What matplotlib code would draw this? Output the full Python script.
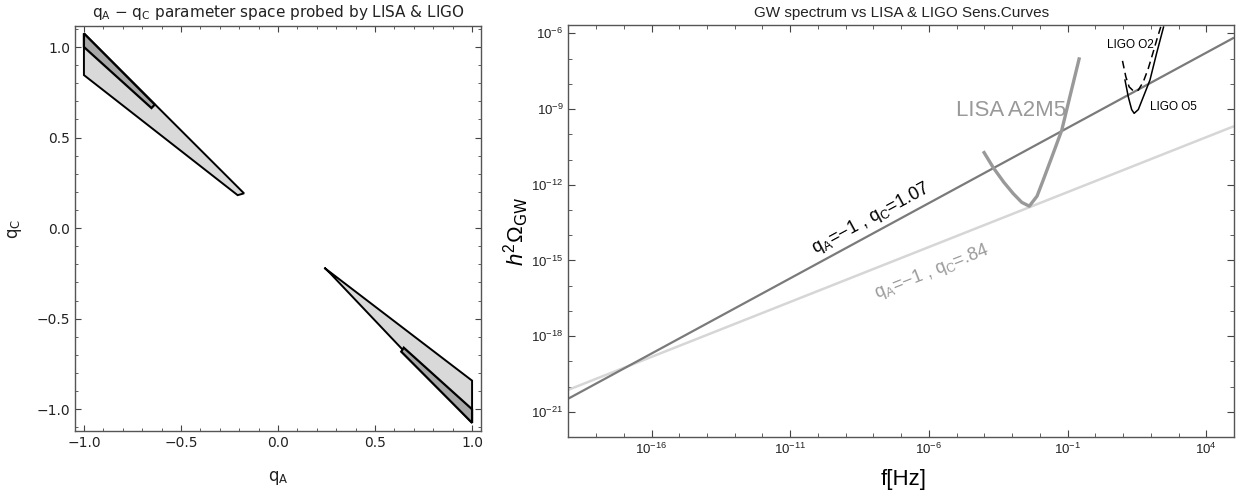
import matplotlib
matplotlib.use("Agg")

import matplotlib.pyplot as plt
from matplotlib import ticker
import numpy as np

# ── Left panel: allowed (qA, qC) regions ───────────────────────────────────────
upper_light_qA = [-1.0, -1.0, -0.208, -0.175]
upper_light_qC = [1.075, 0.845, 0.182, 0.192]
upper_dark_qA = [-1.0, -1.0, -0.652, -0.635]
upper_dark_qC = [1.075, 1.0, 0.663, 0.682]

lower_light_qA = [1.0, 1.0, 0.239, 0.266]
lower_light_qC = [-1.075, -0.842, -0.219, -0.246]
lower_dark_qA = [1.0, 1.0, 0.648, 0.635]
lower_dark_qC = [-1.075, -1.0, -0.66, -0.682]

# ── Right panel: spectra and sensitivity curves (log10 values) ────────────────
line_logf = [-19.0, 5.0]
line_107_logO = [-20.48, -6.17]     # qA=-1, qC=1.07
line_084_logO = [-20.13, -9.68]     # qA=-1, qC=.84

lisa_logf = [-4.04, -3.68, -3.30, -2.96, -2.65, -2.38, -2.10, -1.88, -1.55, -1.21, -0.92, -0.57]
lisa_logO = [-10.67, -11.32, -11.90, -12.35, -12.70, -12.85, -12.45, -11.82, -10.85, -9.84, -8.52, -6.95]

o5_logf = [1.07, 1.19, 1.31, 1.40, 1.55, 1.73, 1.97, 2.21, 2.46]
o5_logO = [-7.85, -8.52, -9.02, -9.17, -9.02, -8.52, -7.85, -6.79, -5.75]

o2_logf = [0.98, 1.10, 1.22, 1.37, 1.55, 1.73, 1.91, 2.09, 2.23, 2.36]
o2_logO = [-7.09, -7.72, -8.12, -8.28, -8.25, -7.92, -7.39, -6.73, -6.20, -5.74]

x_ticks = [1e-16, 1e-11, 1e-6, 1e-1, 1e4]
y_ticks = [1e-21, 1e-18, 1e-15, 1e-12, 1e-9, 1e-6]

plt.rcParams["mathtext.fontset"] = "custom"
plt.rcParams["mathtext.rm"] = "Liberation Sans"
plt.rcParams["mathtext.it"] = "Liberation Sans:italic"

fig = plt.figure(figsize=(12.43, 4.98), dpi=100)
ax1 = fig.add_axes([75 / 1243, 67 / 498, 406 / 1243, 405 / 498])
ax2 = fig.add_axes([568.3 / 1243, 61 / 498, 665.7 / 1243, 411.7 / 498])

# ── Left panel ─────────────────────────────────────────────────────────────────
light = "#d9d9d9"
dark = "#a8a8a8"
for qa, qc, col, lw in [
    (upper_light_qA, upper_light_qC, light, 1.4),
    (lower_light_qA, lower_light_qC, light, 1.4),
    (upper_dark_qA, upper_dark_qC, dark, 1.6),
    (lower_dark_qA, lower_dark_qC, dark, 1.6),
]:
    ax1.fill(qa, qc, facecolor=col, edgecolor="black", linewidth=lw, joinstyle="miter")

ax1.set_xlim(-1.046, 1.046)
ax1.set_ylim(-1.12, 1.116)
ax1.xaxis.set_major_locator(ticker.MultipleLocator(0.5))
ax1.yaxis.set_major_locator(ticker.MultipleLocator(0.5))
ax1.xaxis.set_minor_locator(ticker.MultipleLocator(0.1))
ax1.yaxis.set_minor_locator(ticker.MultipleLocator(0.1))
fmt = ticker.FuncFormatter(lambda v, pos: f"{v:.1f}".replace("-", "\u2212"))
ax1.xaxis.set_major_formatter(fmt)
ax1.yaxis.set_major_formatter(fmt)
ax1.tick_params(which="both", direction="in", top=True, right=True, colors="#444444",
                labelcolor="#222222", labelsize=10)
ax1.tick_params(which="major", length=4, width=0.8)
ax1.tick_params(which="minor", length=2.2, width=0.6)
for sp in ax1.spines.values():
    sp.set_edgecolor("#555555")
    sp.set_linewidth(1.0)

ax1.set_xlabel(r"q$_\mathregular{A}$", fontsize=12, va="center", color="#222222")
ax1.xaxis.set_label_coords(0.5, -0.116)
ax1.set_ylabel(r"q$_\mathregular{C}$", fontsize=12, va="center", color="#222222")
ax1.yaxis.set_label_coords(-0.148, 0.5)
ax1.text(0.5, 1 + 13.5 / 405, r"q$_\mathregular{A}$ − q$_\mathregular{C}$ parameter space probed by LISA & LIGO",
         transform=ax1.transAxes, ha="center", va="center", fontsize=11, color="#222222",
         family="DejaVu Sans")

# ── Right panel ────────────────────────────────────────────────────────────────
lf = 10.0 ** np.array(line_logf)
ax2.plot(lf, 10.0 ** np.array(line_084_logO), color="#d6d6d6", lw=1.8, solid_capstyle="butt")
ax2.plot(lf, 10.0 ** np.array(line_107_logO), color="#7a7a7a", lw=1.6, solid_capstyle="butt")
ax2.plot(10.0 ** np.array(lisa_logf), 10.0 ** np.array(lisa_logO), color="#999999", lw=2.4,
         solid_capstyle="butt")
ax2.plot(10.0 ** np.array(o5_logf), 10.0 ** np.array(o5_logO), color="black", lw=1.1)
ax2.plot(10.0 ** np.array(o2_logf), 10.0 ** np.array(o2_logO), color="black", lw=1.1,
         ls=(0, (5, 3)))

ax2.set_xscale("log")
ax2.set_yscale("log")
ax2.set_xlim(1e-19, 1e5)
ax2.set_ylim(1e-22, 10 ** -5.68)
ax2.xaxis.set_major_locator(ticker.FixedLocator(x_ticks))
ax2.yaxis.set_major_locator(ticker.FixedLocator(y_ticks))
ax2.xaxis.set_minor_locator(ticker.LogLocator(base=10, subs=(1.0,), numticks=100))
ax2.yaxis.set_minor_locator(ticker.LogLocator(base=10, subs=(1.0,), numticks=100))
ax2.xaxis.set_minor_formatter(ticker.NullFormatter())
ax2.yaxis.set_minor_formatter(ticker.NullFormatter())
ax2.xaxis.set_major_formatter(ticker.LogFormatterSciNotation())
ax2.yaxis.set_major_formatter(ticker.LogFormatterSciNotation())
ax2.tick_params(which="both", direction="in", top=True, right=True, colors="#444444",
                labelcolor="#222222", labelsize=9.5)
ax2.tick_params(which="major", length=5, width=0.8)
ax2.tick_params(which="minor", length=2.8, width=0.6)
for lab in ax2.get_xticklabels() + ax2.get_yticklabels():
    lab.set_family("Liberation Sans")
for sp in ax2.spines.values():
    sp.set_edgecolor("#555555")
    sp.set_linewidth(1.0)

ax2.set_xlabel("f[Hz]", fontsize=16, va="center", family="Liberation Sans")
ax2.xaxis.set_label_coords(0.503, -0.104)
ax2.set_ylabel(r"$h^2\Omega_{\mathregular{GW}}$", fontsize=16, va="center")
ax2.yaxis.set_label_coords(-0.078, 0.5)
ax2.text(0.5, 1 + 12.5 / 411.7, "GW spectrum vs LISA & LIGO Sens.Curves", transform=ax2.transAxes,
         ha="center", va="center", fontsize=11, family="Liberation Sans", color="#222222")

ax2.text(10 ** -3.04, 10 ** -9.04, "LISA A2M5", color="#999999", fontsize=16,
         family="Liberation Sans", ha="center", va="center")
ax2.text(10 ** 1.26, 10 ** -6.46, "LIGO O2", fontsize=8.5, family="Liberation Sans",
         ha="center", va="center")
ax2.text(10 ** 1.98, 10 ** -8.91, "LIGO O5", fontsize=8.5, family="Liberation Sans",
         ha="left", va="center")
ax2.text(10 ** -8.09, 10 ** -13.33, r"q$_\mathregular{A}$=−1 , q$_\mathregular{C}$=1.07",
         fontsize=13, family="Liberation Sans", ha="center", va="center",
         rotation=28.4, rotation_mode="anchor")
ax2.text(10 ** -5.9, 10 ** -15.45, r"q$_\mathregular{A}$=−1 , q$_\mathregular{C}$=.84",
         color="#9a9a9a", fontsize=13, family="Liberation Sans", ha="center", va="center",
         rotation=21.6, rotation_mode="anchor")

fig.savefig("out.png", dpi=100)
